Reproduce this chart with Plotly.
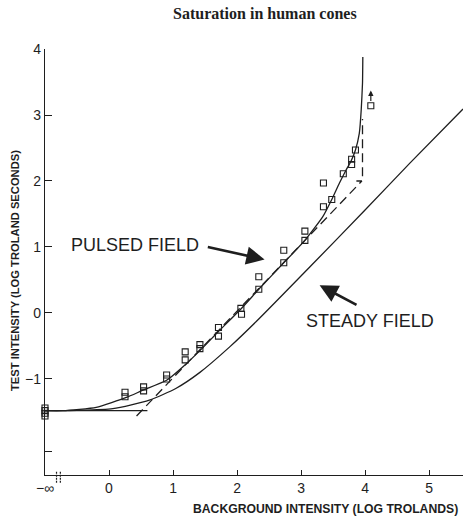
import plotly.graph_objects as go

# ---------------- data ----------------
# x = -1 stands for the "-infinity" background position
data_x = [-1.0, -1.0, -1.0, -1.0,
          0.25, 0.25, 0.54, 0.54, 0.90, 0.90, 1.19, 1.19, 1.42, 1.42,
          1.71, 1.71, 2.06, 2.07, 2.34, 2.34, 2.73, 2.73, 3.06, 3.06,
          3.35, 3.35, 3.48, 3.66, 3.79, 3.79, 3.85, 4.09]
data_y = [-1.44, -1.48, -1.52, -1.56,
          -1.20, -1.27, -1.12, -1.18, -0.94, -1.00, -0.59, -0.71, -0.48, -0.54,
          -0.22, -0.35, 0.07, -0.02, 0.55, 0.36, 0.95, 0.76, 1.24, 1.10,
          1.97, 1.61, 1.72, 2.11, 2.33, 2.25, 2.47, 3.14]

pulsed_x = [-1.0, -0.72, -0.2, 0.27, 0.53, 0.90, 1.16, 1.42, 1.71, 2.06,
            2.35, 2.73, 3.06, 3.34, 3.48, 3.60, 3.70, 3.78, 3.85, 3.91, 3.94, 3.96, 3.965]
pulsed_y = [-1.48, -1.48, -1.43, -1.28, -1.17, -1.02, -0.81, -0.57, -0.28, 0.06,
            0.37, 0.76, 1.10, 1.46, 1.72, 1.97, 2.16, 2.30, 2.47, 2.72, 3.08, 3.48, 3.88]

steady_x = [-1.0, -0.5, 0.06, 0.63, 1.05, 1.42, 1.89, 2.30, 3.14, 4.00, 4.70, 5.53]
steady_y = [-1.48, -1.475, -1.45, -1.32, -1.14, -0.90, -0.51, -0.13, 0.70, 1.56, 2.27, 3.09]

flat_x = [-1.0, 0.60]
flat_y = [-1.48, -1.48]

dashed_x = [0.43, 3.95, 3.84, None, 3.96, 3.96]
dashed_y = [-1.56, 2.00, 2.00, None, 2.07, 2.94]

x_tickvals = [-1, 0, 1, 2, 3, 4, 5]
x_ticktext = ["\u2212\u221e", "0", "1", "2", "3", "4", "5"]
y_tickvals = [-2.1, -1, 0, 1, 2, 3, 4]
y_ticktext = ["", "\u22121", "0", "1", "2", "3", "4"]

title_text = "Saturation in human cones"
x_title = "BACKGROUND INTENSITY (LOG TROLANDS)"
y_title = "TEST INTENSITY (LOG TROLAND SECONDS)"
pulsed_label = "PULSED FIELD"
steady_label = "STEADY FIELD"

# ---------------- figure ----------------
INK = "#1e1e1e"
fig = go.Figure()

fig.add_trace(go.Scatter(x=pulsed_x, y=pulsed_y, mode="lines",
                         line=dict(color=INK, width=1.3, shape="spline", smoothing=0.5),
                         hoverinfo="skip", showlegend=False))
fig.add_trace(go.Scatter(x=steady_x, y=steady_y, mode="lines",
                         line=dict(color=INK, width=1.3, shape="spline", smoothing=0.6),
                         hoverinfo="skip", showlegend=False))
fig.add_trace(go.Scatter(x=flat_x, y=flat_y, mode="lines",
                         line=dict(color=INK, width=1.3),
                         hoverinfo="skip", showlegend=False))
fig.add_trace(go.Scatter(x=dashed_x, y=dashed_y, mode="lines",
                         line=dict(color=INK, width=1.3, dash="9px,5px"),
                         connectgaps=False, hoverinfo="skip", showlegend=False))
fig.add_trace(go.Scatter(x=data_x, y=data_y, mode="markers",
                         marker=dict(symbol="square-open", size=6, color=INK,
                                     line=dict(width=1.1, color=INK)),
                         cliponaxis=False, showlegend=False))

annotations = [
    # up arrow on the highest data point
    dict(x=data_x[-1], y=3.37, ax=data_x[-1], ay=3.19, xref="x", yref="y",
         axref="x", ayref="y", showarrow=True, arrowhead=2, arrowsize=0.9,
         arrowwidth=1.2, arrowcolor=INK, text=""),
    # pulsed field label and arrow
    dict(x=0.41, y=1.03, xref="x", yref="y", text=pulsed_label, showarrow=False,
         font=dict(family="Liberation Sans, Arial, sans-serif", size=18, color=INK)),
    dict(x=2.43, y=0.81, ax=1.52, ay=1.005, xref="x", yref="y", axref="x", ayref="y",
         showarrow=True, arrowhead=2, arrowsize=1.4, arrowwidth=2.6, arrowcolor=INK,
         text=""),
    # steady field label and arrow
    dict(x=4.08, y=-0.12, xref="x", yref="y", text=steady_label, showarrow=False,
         font=dict(family="Liberation Sans, Arial, sans-serif", size=18, color=INK)),
    dict(x=3.29, y=0.42, ax=3.89, ay=0.11, xref="x", yref="y", axref="x", ayref="y",
         showarrow=True, arrowhead=2, arrowsize=1.4, arrowwidth=2.6, arrowcolor=INK,
         text=""),
    # axis titles
    dict(x=0.67, y=-0.08, xref="paper", yref="paper", text="<b>" + x_title + "</b>",
         showarrow=False, xanchor="center", yanchor="middle",
         font=dict(family="Liberation Sans, Arial, sans-serif", size=12.2, color=INK)),
    dict(x=-0.072, y=0.481, xref="paper", yref="paper", text="<b>" + y_title + "</b>",
         showarrow=False, textangle=-90, xanchor="center", yanchor="middle",
         font=dict(family="Liberation Sans, Arial, sans-serif", size=11.2, color=INK)),
]

# axis-break marks near the -infinity position
shapes = []
for bx in (-0.82, -0.76):
    shapes.append(dict(type="line", xref="x", yref="paper", x0=bx, x1=bx, y0=-0.018, y1=0.01,
                       line=dict(color=INK, width=1.2, dash="2px,1px")))

fig.update_layout(
    width=463, height=519,
    margin=dict(l=45, r=0, t=49, b=44),
    paper_bgcolor="white", plot_bgcolor="white",
    title=dict(text="<b>" + title_text + "</b>", x=0.572, xref="container", xanchor="center",
               y=1 - 13 / 519, yref="container", yanchor="middle",
               font=dict(family="Liberation Serif, Times New Roman, serif", size=16, color=INK)),
    annotations=annotations,
    shapes=shapes,
    showlegend=False,
)

fig.update_xaxes(range=[-1.0, 5.53], showgrid=False, zeroline=False, showline=True,
                 linecolor=INK, linewidth=1.3, ticks="inside", ticklen=5, tickwidth=1.2,
                 tickcolor=INK, tickvals=x_tickvals, ticktext=x_ticktext,
                 tickfont=dict(family="Liberation Sans, Arial, sans-serif", size=14, color=INK))
fig.update_yaxes(range=[-2.455, 4.0], showgrid=False, zeroline=False, showline=True,
                 linecolor=INK, linewidth=1.3, ticks="inside", ticklen=7, tickwidth=1.2,
                 tickcolor=INK, tickvals=y_tickvals, ticktext=y_ticktext,
                 tickfont=dict(family="Liberation Sans, Arial, sans-serif", size=14, color=INK))

fig.write_html("out.html")
